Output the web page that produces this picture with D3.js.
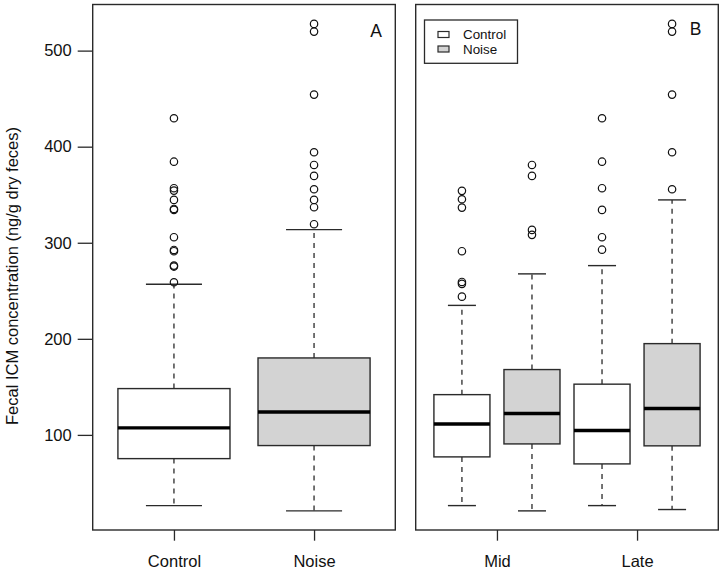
<!DOCTYPE html>
<html>
<head>
<meta charset="utf-8">
<script src="https://cdn.jsdelivr.net/npm/d3@7"></script>
<style>
  body { margin: 0; background: #fff; }
  svg { display: block; }
  text { font-family: "Liberation Sans", Arial, Helvetica, sans-serif; fill: #111; }
</style>
</head>
<body>
<svg id="chart" width="724" height="572"></svg>
<script>
// ---------- data ----------
const yTicks = [100, 200, 300, 400, 500];
const yLabel = "Fecal ICM concentration (ng/g dry feces)";

// Panel A
const catsA = ["Control", "Noise"];
const fillsA = ["#ffffff", "#d3d3d3"];
const lowA = [26.4, 20.9];
const q1A = [75.3, 88.9];
const medA = [107.3, 123.9];
const q3A = [148.2, 180.1];
const highA = [256.8, 313.7];
const outA = [
  [429.6, 384.4, 356.8, 354.3, 344.6, 335.2, 334.2, 305.8, 292.5, 291.2, 276.2, 275.2, 258.9],
  [527.8, 519.8, 454.2, 394.2, 381.0, 369.6, 355.7, 344.6, 337.0, 319.3]
];

// Panel B (Control Mid, Noise Mid, Control Late, Noise Late)
const periodsB = ["Mid", "Late"];
const groupsB = ["Control", "Noise", "Control", "Noise"];
const fillsB = ["#ffffff", "#d3d3d3", "#ffffff", "#d3d3d3"];
const lowB = [26.4, 20.9, 26.4, 22.3];
const q1B = [77.1, 90.6, 69.8, 88.6];
const medB = [111.4, 122.2, 104.5, 127.4];
const q3B = [141.9, 168.0, 152.8, 195.0];
const highB = [234.8, 267.6, 276.2, 344.6];
const outB = [
  [354.0, 345.3, 336.6, 291.2, 259.2, 257.2, 243.9],
  [381.0, 369.6, 313.4, 308.2],
  [429.6, 384.4, 356.8, 334.2, 305.8, 292.8],
  [527.8, 519.8, 454.2, 394.2, 355.7]
];

const legendLabels = ["Control", "Noise"];
const legendFills = ["#ffffff", "#d3d3d3"];

// ---------- layout ----------
const svg = d3.select("#chart");
const plotTop = 4.5, plotBottom = 530;
const panelA = {x0: 92.7, x1: 395.3};
const panelB = {x0: 415.7, x1: 718.3};
const axisFont = 16.5;
const stroke = "#2a2a2a";

const y = d3.scaleLinear().domain([1, 548]).range([plotBottom, plotTop]);

const xA = d3.scaleLinear().domain([0.5 - 0.08, 2.5 + 0.08]).range([panelA.x0, panelA.x1]);
const xB = d3.scaleLinear().domain([0.5 - 0.16, 4.5 + 0.16]).range([panelB.x0, panelB.x1]);

function drawBoxes(g, x, n, low, q1, med, q3, high, outs, fills) {
  const unit = x(2) - x(1);
  const bw = 0.8 * unit, cw = 0.4 * unit;
  const idx = d3.range(n);
  const grp = g.selectAll("g.box").data(idx).join("g").attr("class", "box");
  grp.append("line").attr("x1", i => x(i + 1)).attr("x2", i => x(i + 1))
    .attr("y1", i => y(q3[i])).attr("y2", i => y(high[i]))
    .attr("stroke", stroke).attr("stroke-width", 1.3).attr("stroke-dasharray", "5,5");
  grp.append("line").attr("x1", i => x(i + 1)).attr("x2", i => x(i + 1))
    .attr("y1", i => y(q1[i])).attr("y2", i => y(low[i]))
    .attr("stroke", stroke).attr("stroke-width", 1.3).attr("stroke-dasharray", "5,5");
  grp.append("line").attr("x1", i => x(i + 1) - cw / 2).attr("x2", i => x(i + 1) + cw / 2)
    .attr("y1", i => y(high[i])).attr("y2", i => y(high[i]))
    .attr("stroke", stroke).attr("stroke-width", 1.4);
  grp.append("line").attr("x1", i => x(i + 1) - cw / 2).attr("x2", i => x(i + 1) + cw / 2)
    .attr("y1", i => y(low[i])).attr("y2", i => y(low[i]))
    .attr("stroke", stroke).attr("stroke-width", 1.4);
  grp.append("rect").attr("x", i => x(i + 1) - bw / 2).attr("width", bw)
    .attr("y", i => y(q3[i])).attr("height", i => y(q1[i]) - y(q3[i]))
    .attr("fill", i => fills[i]).attr("stroke", stroke).attr("stroke-width", 1.4);
  grp.append("line").attr("x1", i => x(i + 1) - bw / 2).attr("x2", i => x(i + 1) + bw / 2)
    .attr("y1", i => y(med[i])).attr("y2", i => y(med[i]))
    .attr("stroke", "#000").attr("stroke-width", 3.4);
  grp.each(function(i) {
    d3.select(this).selectAll("circle").data(outs[i]).join("circle")
      .attr("cx", x(i + 1)).attr("cy", d => y(d)).attr("r", 3.7)
      .attr("fill", "none").attr("stroke", "#111").attr("stroke-width", 1.2);
  });
}

// Panel A
const gA = svg.append("g");
drawBoxes(gA, xA, catsA.length, lowA, q1A, medA, q3A, highA, outA, fillsA);
gA.append("rect").attr("x", panelA.x0).attr("y", plotTop).attr("width", panelA.x1 - panelA.x0)
  .attr("height", plotBottom - plotTop).attr("fill", "none").attr("stroke", stroke).attr("stroke-width", 1.4);

// Panel B
const gB = svg.append("g");
drawBoxes(gB, xB, groupsB.length, lowB, q1B, medB, q3B, highB, outB, fillsB);
gB.append("rect").attr("x", panelB.x0).attr("y", plotTop).attr("width", panelB.x1 - panelB.x0)
  .attr("height", plotBottom - plotTop).attr("fill", "none").attr("stroke", stroke).attr("stroke-width", 1.4);

function styleAxis(ax) {
  ax.select(".domain").remove();
  ax.selectAll("line").attr("stroke", stroke).attr("stroke-width", 1.3);
  ax.selectAll("text").attr("font-size", axisFont)
    .attr("font-family", "Liberation Sans, Arial, sans-serif").attr("fill", "#111");
}

// Y axis
const yAxis = svg.append("g").attr("transform", `translate(${panelA.x0},0)`)
  .call(d3.axisLeft(y).tickValues(yTicks).tickSize(15).tickPadding(6).tickFormat(d3.format("d")));
styleAxis(yAxis);

// X axis A
const xAxisA = svg.append("g").attr("transform", `translate(0,${plotBottom})`)
  .call(d3.axisBottom(xA).tickValues([1, 2]).tickSize(10.7).tickPadding(15).tickFormat((d, i) => catsA[i]));
styleAxis(xAxisA);

// X axis B
const xAxisB = svg.append("g").attr("transform", `translate(0,${plotBottom})`)
  .call(d3.axisBottom(xB).tickValues([1.5, 3.5]).tickSize(10.7).tickPadding(15).tickFormat((d, i) => periodsB[i]));
styleAxis(xAxisB);

// Y label
svg.append("text").attr("transform", `translate(17.5,276) rotate(-90)`)
  .attr("text-anchor", "middle").attr("font-size", axisFont).text(yLabel);

// Panel letters
svg.append("text").attr("x", 376).attr("y", 37).attr("text-anchor", "middle")
  .attr("font-size", 17.5).text("A");
svg.append("text").attr("x", 695.5).attr("y", 35).attr("text-anchor", "middle")
  .attr("font-size", 17.5).text("B");

// Legend
const leg = svg.append("g");
leg.append("rect").attr("x", 424.5).attr("y", 20).attr("width", 93).attr("height", 43.3)
  .attr("fill", "#fff").attr("stroke", stroke).attr("stroke-width", 1.3);
const li = leg.selectAll("g.item").data(legendLabels).join("g").attr("class", "item")
  .attr("transform", (d, i) => `translate(0,${34.5 + i * 14.5})`);
li.append("rect").attr("x", 438).attr("y", -3).attr("width", 11).attr("height", 6)
  .attr("fill", (d, i) => legendFills[i]).attr("stroke", stroke).attr("stroke-width", 1.2);
li.append("text").attr("x", 463).attr("dy", "0.35em").attr("font-size", 13.4).text(d => d);
</script>
</body>
</html>
